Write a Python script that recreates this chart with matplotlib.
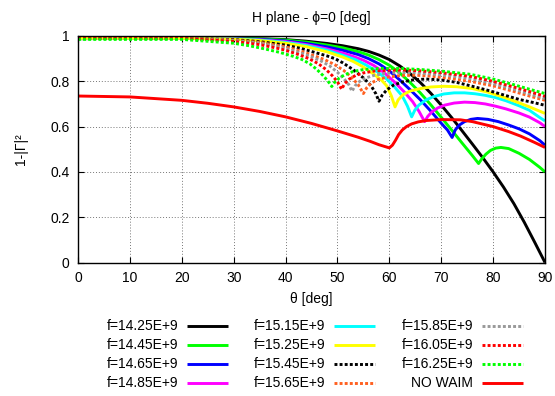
import matplotlib
matplotlib.use("Agg")
import matplotlib.pyplot as plt
from matplotlib.lines import Line2D

plt.rcParams['font.family'] = ['Liberation Sans', 'DejaVu Sans']
plt.rcParams['font.size'] = 10

# ---------------- data (theta [deg], 1-|Gamma|^2) ----------------
th_1425 = [0, 10, 20, 30, 35, 40, 44, 48, 51, 54, 56, 58, 60, 62, 64, 66, 68, 70, 72, 74, 76, 78, 80, 82, 84, 86, 88, 90]
v_1425 = [.988, .99, .99, .99, .988, .984, .977, .967, .957, .944, .932, .916, .896, .868, .834, .794, .747, .695, .64, .582, .523, .463, .40, .333, .26, .178, .09, 0.0]

th_1445 = [0, 10, 20, 30, 35, 40, 44, 48, 51, 54, 56, 58, 60, 62, 64, 66, 68, 70, 72, 74, 76, 77.2, 77.8, 78.6, 79.5, 80.5, 81.5, 83, 85, 87, 89, 90]
v_1445 = [.99, .99, .99, .99, .987, .982, .973, .96, .948, .931, .916, .896, .871, .837, .795, .748, .696, .641, .585, .528, .472, .437, .457, .478, .495, .505, .508, .503, .482, .455, .42, .40]

th_1465 = [0, 10, 20, 30, 35, 40, 44, 48, 51, 54, 56, 58, 60, 62, 64, 66, 68, 70, 71.2, 72.1, 72.7, 73.5, 74.5, 75.7, 77, 79, 81, 83, 85, 87, 89, 90]
v_1465 = [.99, .99, .99, .988, .985, .978, .967, .952, .937, .918, .9, .877, .846, .806, .763, .718, .668, .615, .585, .552, .585, .607, .622, .632, .636, .632, .622, .607, .59, .568, .538, .518]

th_1485 = [0, 10, 20, 30, 35, 40, 44, 48, 51, 53, 55, 57, 59, 61, 63, 64.5, 65.7, 66.8, 67.4, 68.2, 69.3, 70.7, 72.5, 74.5, 76.5, 78.5, 80.5, 82.5, 85, 87, 89, 90]
v_1485 = [.99, .99, .99, .987, .983, .975, .962, .943, .925, .91, .893, .87, .838, .797, .75, .71, .668, .622, .645, .665, .682, .695, .704, .708, .706, .70, .69, .678, .66, .642, .617, .60]

th_1515 = [0, 10, 20, 30, 35, 40, 44, 48, 51, 53.5, 55.5, 57.5, 59.5, 61, 62.5, 63.5, 64.3, 64.9, 65.7, 67, 68.5, 70.5, 72.5, 74.5, 76.5, 78.5, 80.5, 82.5, 85, 87, 89, 90]
v_1515 = [.99, .99, .99, .987, .982, .972, .958, .937, .915, .895, .872, .845, .81, .775, .735, .69, .643, .672, .695, .717, .732, .744, .749, .749, .745, .738, .728, .714, .692, .672, .64, .625]

th_1525 = [0, 10, 20, 30, 35, 40, 44, 48, 51, 53, 55, 57, 58.5, 59.5, 60.4, 61.1, 61.7, 62.6, 64, 66, 68, 70.5, 73, 76, 79, 82, 85, 87, 89, 90]
v_1525 = [.99, .99, .99, .986, .98, .968, .953, .93, .907, .888, .863, .832, .805, .78, .735, .687, .718, .74, .757, .768, .775, .778, .776, .768, .752, .73, .705, .687, .668, .658]

th_1545 = [0, 10, 20, 30, 35, 40, 43, 46, 48, 49.5, 51, 53, 55, 56.5, 57.4, 58, 58.6, 59.5, 60.8, 62.5, 64.5, 67, 70, 73, 76, 79, 82, 85, 88, 90]
v_1545 = [.99, .99, .99, .984, .975, .96, .945, .925, .912, .9, .882, .852, .815, .78, .745, .712, .738, .762, .783, .797, .806, .81, .806, .795, .778, .76, .74, .72, .705, .694]

th_1565 = [0, 10, 20, 30, 35, 40, 43, 45.5, 47.6, 49.5, 51.2, 52.7, 54, 55, 55.6, 56.5, 57.8, 59.5, 62, 65, 68, 72, 76, 80, 84, 87, 90]
v_1565 = [.99, .99, .99, .982, .972, .952, .933, .913, .895, .873, .848, .818, .785, .746, .77, .792, .808, .818, .825, .827, .823, .812, .798, .78, .755, .735, .716]

th_1585 = [0, 10, 20, 30, 35, 40, 43, 45, 46.8, 48.5, 50, 51.3, 52.2, 52.8, 53.4, 54.3, 55.5, 57, 59, 62, 65, 68, 71, 75.6, 80, 84, 87, 90]
v_1585 = [.99, .99, .99, .98, .968, .945, .925, .908, .89, .868, .84, .81, .785, .756, .78, .80, .815, .826, .834, .839, .838, .833, .826, .812, .79, .765, .745, .724]

th_1605 = [0, 10, 20, 30, 35, 38, 40, 42.5, 44.5, 46.3, 47.8, 49, 50, 50.8, 51.4, 52.3, 53.5, 55, 57, 60, 63, 66, 70, 75.6, 80, 84, 87, 90]
v_1605 = [.99, .99, .99, .976, .962, .948, .937, .918, .90, .878, .852, .825, .798, .765, .79, .81, .826, .837, .845, .849, .85, .846, .838, .822, .80, .775, .755, .734]

th_1625 = [0, 10, 20, 30, 33, 36, 39, 41.5, 43.1, 44.7, 46, 47.2, 48.2, 48.9, 49.5, 50.4, 51.5, 53, 55, 58, 62, 66, 70, 75.6, 80, 84, 87, 90]
v_1625 = [.985, .985, .985, .968, .957, .943, .927, .91, .897, .877, .853, .826, .80, .777, .797, .815, .83, .843, .852, .857, .857, .852, .845, .831, .81, .785, .765, .746]

th_nowaim = [0, 10, 20, 25, 30, 35, 40, 45, 50, 54, 56.3, 58, 60, 60.6, 61.2, 61.8, 62.5, 63.3, 64.3, 65.6, 67.2, 70, 73.7, 76, 80, 83, 85.3, 88, 90]
v_nowaim = [.735, .731, .716, .703, .687, .667, .643, .614, .581, .553, .535, .52, .506, .518, .54, .565, .585, .60, .612, .621, .627, .631, .63, .622, .60, .578, .558, .53, .508]

labels = ["f=14.25E+9", "f=14.45E+9", "f=14.65E+9", "f=14.85E+9",
          "f=15.15E+9", "f=15.25E+9", "f=15.45E+9", "f=15.65E+9",
          "f=15.85E+9", "f=16.05E+9", "f=16.25E+9", "NO WAIM"]

x_ticks = [0, 10, 20, 30, 40, 50, 60, 70, 80, 90]
y_ticks = [0, 0.2, 0.4, 0.6, 0.8, 1.0]
y_ticklabels = ["0", "0.2", "0.4", "0.6", "0.8", "1"]

# ---------------- styles ----------------
series = [(th_1425, v_1425), (th_1445, v_1445), (th_1465, v_1465), (th_1485, v_1485),
          (th_1515, v_1515), (th_1525, v_1525), (th_1545, v_1545), (th_1565, v_1565),
          (th_1585, v_1585), (th_1605, v_1605), (th_1625, v_1625), (th_nowaim, v_nowaim)]
colors = ['#000000', '#00ff00', '#0000ff', '#ff00ff', '#00ffff', '#ffff00',
          '#000000', '#ff6020', '#999999', '#ff0000', '#00ff00', '#ff0000']
dotted = (0, (1.0, 0.75))
styles = ['-', '-', '-', '-', '-', '-', dotted, dotted, dotted, dotted, dotted, '-']
LW = 2.1

W, H = 555, 396
fig = plt.figure(figsize=(W / 100, H / 100), dpi=100)
ax_l, ax_r, ax_t, ax_b = 78, 545, 36, 262.5
ax = fig.add_axes([ax_l / W, 1 - ax_b / H, (ax_r - ax_l) / W, (ax_b - ax_t) / H])

for (xs, ys), c, ls in zip(series, colors, styles):
    ax.plot(xs, ys, color=c, linestyle=ls, lw=LW, dash_capstyle='butt',
            solid_joinstyle='round', solid_capstyle='butt', zorder=3)

ax.set_xlim(0, 90)
ax.set_ylim(0, 1)
ax.set_xticks(x_ticks)
ax.set_yticks(y_ticks)
ax.set_yticklabels(y_ticklabels)
ax.tick_params(direction='in', length=4, width=0.8, top=True, right=True,
               labelsize=10, pad=6)
ax.grid(True, color='#777777', linestyle=(0, (1, 2)), lw=0.7, zorder=1)
for s in ax.spines.values():
    s.set_linewidth(1.0)
    s.set_zorder(4)

ax.set_title("H plane - \u03d5=0 [deg]", fontsize=10, pad=10)
ax.set_xlabel("\u03b8 [deg]", fontsize=10, labelpad=5)
ax.set_ylabel("1-|\u0393|\u00b2", fontsize=10, labelpad=16)

# ---------------- legend (gnuplot style, text right-justified) ----------------
col_text_end = [178, 325, 473]
col_line = [(187, 228), (334, 375), (482, 523)]
row_y = [326, 345, 364, 383]
for i, lab in enumerate(labels):
    col, row = divmod(i, 4)
    y = 1 - row_y[row] / H
    fig.text(col_text_end[col] / W, y, lab, ha='right', va='center', fontsize=10)
    x0, x1 = col_line[col]
    fig.add_artist(Line2D([x0 / W, x1 / W], [y, y], color=colors[i],
                          linestyle=styles[i], lw=LW, dash_capstyle='butt',
                          solid_capstyle='butt', transform=fig.transFigure))

fig.savefig("out.png", dpi=100)
